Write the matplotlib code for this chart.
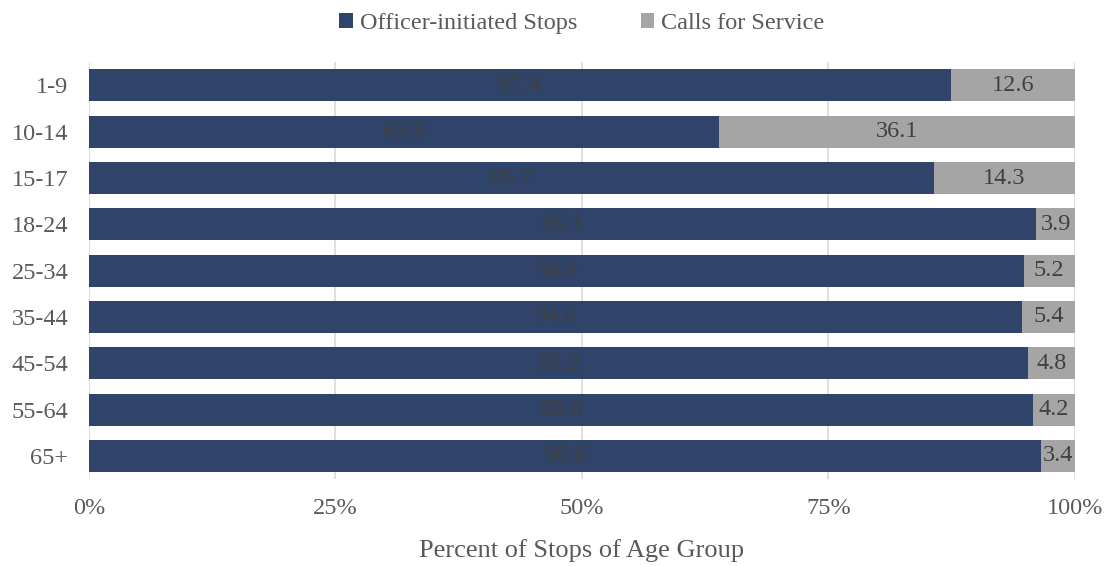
import matplotlib.pyplot as plt
from matplotlib.ticker import FuncFormatter

plt.rcParams['font.family'] = ['Liberation Serif', 'DejaVu Serif']

age_groups = ['1-9', '10-14', '15-17', '18-24', '25-34', '35-44', '45-54', '55-64', '65+']
officer = [87.4, 63.9, 85.7, 96.1, 94.8, 94.6, 95.2, 95.8, 96.6]
calls = [12.6, 36.1, 14.3, 3.9, 5.2, 5.4, 4.8, 4.2, 3.4]

navy = '#2F4468'
grey = '#A5A5A5'
label_col = '#404040'
axis_col = '#595959'

fig = plt.figure(figsize=(11.07, 5.66), dpi=100)
ax = fig.add_axes([0.0804, 0.1537, 0.8906, 0.7363])

y = list(range(len(age_groups)))
b1 = ax.barh(y, officer, height=0.69, color=navy, label='Officer-initiated Stops', zorder=2)
b2 = ax.barh(y, calls, left=officer, height=0.69, color=grey, label='Calls for Service', zorder=2)

# value labels centred in each segment
for bars, vals in ((b1, officer), (b2, calls)):
    for bar, v in zip(bars, vals):
        ax.text(bar.get_x() + bar.get_width() / 2, bar.get_y() + bar.get_height() / 2,
                f'{v:.1f}', ha='center', va='center', fontsize=17.5, color=label_col, zorder=3)

ax.set_xlim(0, 100)
ax.set_ylim(len(age_groups) - 0.5, -0.5)
ax.set_yticks(y)
ax.set_yticklabels(age_groups)
ax.set_xticks([0, 25, 50, 75, 100])
ax.xaxis.set_major_formatter(FuncFormatter(lambda v, p: f'{v:.0f}%'))
ax.tick_params(axis='both', length=0, labelsize=17.5, colors=axis_col)
ax.tick_params(axis='y', pad=15)
ax.tick_params(axis='x', pad=14)
ax.grid(axis='x', color='#D9D9D9', linewidth=1.2, zorder=0)
for s in ax.spines.values():
    s.set_visible(False)

ax.set_xlabel('Percent of Stops of Age Group', fontsize=19, color=axis_col, labelpad=14)

ax.legend(loc='lower center', bbox_to_anchor=(0.5, 1.0), ncol=2, frameon=False,
          fontsize=17.5, labelcolor=axis_col, handlelength=0.55, handleheight=0.55,
          handletextpad=0.3, columnspacing=2.6, borderaxespad=0.75)

fig.savefig('out.png', dpi=100)
